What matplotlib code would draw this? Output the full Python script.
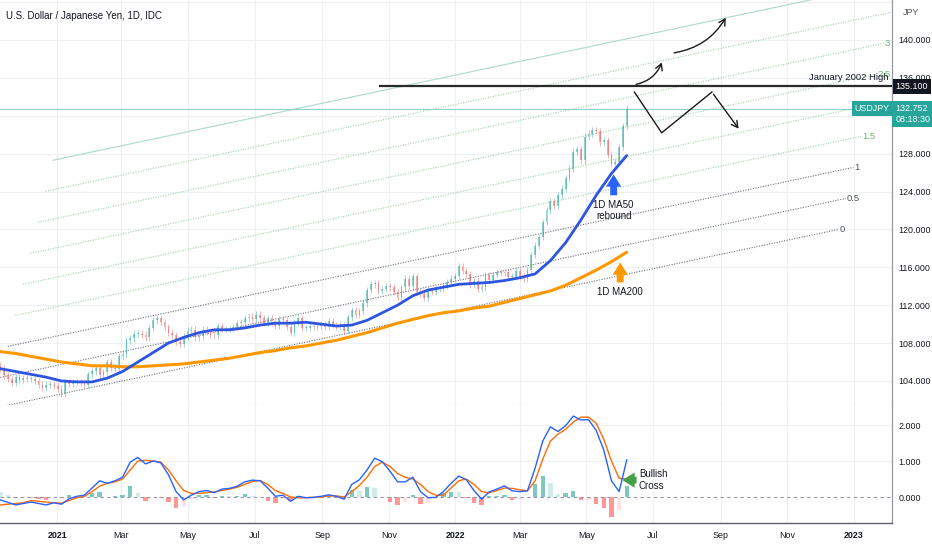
#!/usr/bin/env python

"""
USD/JPY daily chart with MA50 / MA200, a Fibonacci channel and MACD pane.
"""

import matplotlib
matplotlib.use("Agg")
import matplotlib.pyplot as plt
import matplotlib.transforms as mtransforms
import pandas as pd

plt.rcParams['font.family'] = ['Liberation Sans', 'DejaVu Sans']

# price closes, two per week, ending 2022-06-07
closes = [
    105.3, 104.6, 104.2, 103.8, 104.4, 104.1, 104.3, 104.2, 104.2, 104.0,
    103.6, 103.3, 103.6, 103.6, 103.5, 103.2, 102.7, 103.9, 103.7, 103.9,
    103.9, 103.8, 103.6, 104.7, 105.0, 105.4, 104.6, 104.9, 106.0, 105.4,
    105.3, 106.6, 106.8, 108.3, 108.5, 109.0, 109.0, 108.9, 108.6, 109.6,
    110.4, 110.6, 110.2, 109.7, 109.1, 108.8, 108.1, 107.9, 108.7, 109.3,
    109.4, 108.6, 108.7, 109.4, 109.2, 108.9, 108.8, 109.8, 109.5, 109.5,
    109.5, 109.7, 110.1, 110.2, 110.6, 110.8, 110.5, 111.0, 110.6, 110.1,
    110.6, 110.1, 109.8, 110.5, 110.4, 109.7, 109.1, 110.2, 110.6, 109.6,
    109.6, 109.8, 109.7, 109.8, 110.0, 109.7, 110.3, 109.9, 109.7, 109.9,
    109.3, 110.7, 111.5, 111.0, 111.4, 112.2, 113.6, 114.2, 114.3, 113.5,
    113.7, 114.0, 113.9, 113.4, 112.9, 113.9, 114.8, 114.0, 115.1, 113.4,
    113.2, 112.8, 113.5, 113.4, 113.7, 113.7, 114.1, 114.4, 114.8, 115.1,
    116.1, 115.6, 115.3, 114.2, 114.6, 113.7, 113.9, 115.2, 114.7, 115.2,
    115.5, 115.4, 115.5, 115.0, 115.0, 115.6, 115.0, 114.8, 115.7, 117.3,
    118.3, 119.2, 120.8, 122.0, 123.0, 122.5, 123.6, 124.3, 125.4, 126.4,
    128.2, 128.5, 127.3, 129.8, 130.1, 130.5, 130.4, 129.2, 129.4, 127.9,
    126.9, 127.1, 128.7, 130.9, 132.752,
]

# moving averages, every two weeks
ma50 = [
    105.3, 105.0, 104.7, 104.4, 104.0, 103.9, 103.9, 104.3, 105.0, 106.0,
    107.0, 108.0, 108.6, 109.1, 109.4, 109.4, 109.6, 109.9, 110.1, 110.1,
    110.2, 110.0, 109.8, 109.9, 110.4, 111.2, 112.0, 113.0, 113.6, 113.9,
    114.2, 114.3, 114.4, 114.6, 114.9, 115.3, 116.7, 118.6, 121.0, 123.6,
    125.9, 127.8,
]
ma200 = [
    107.1, 106.9, 106.6, 106.3, 106.0, 105.8, 105.6, 105.6, 105.5, 105.5,
    105.6, 105.7, 105.8, 106.0, 106.2, 106.4, 106.7, 107.0, 107.2, 107.5,
    107.7, 108.0, 108.3, 108.7, 109.1, 109.6, 110.1, 110.5, 110.9, 111.2,
    111.4, 111.7, 111.9, 112.3, 112.7, 113.1, 113.5, 114.1, 114.9, 115.7,
    116.6, 117.6,
]

# MACD pane, weekly
macd = [
    -0.08, -0.15, -0.22, -0.18, -0.14, -0.18, -0.22, -0.16, -0.20, -0.05,
    0.02, 0.05, 0.25, 0.45, 0.38, 0.45, 0.55, 0.97, 1.10, 0.92,
    1.00, 0.95, 0.62, 0.15, -0.08, 0.05, 0.15, 0.18, 0.12, 0.22,
    0.24, 0.30, 0.42, 0.47, 0.45, 0.25, 0.02, 0.05, -0.12, 0.02,
    -0.02, -0.01, 0.02, 0.06, 0.02, -0.06, 0.35, 0.48, 0.75, 1.08,
    0.98, 0.72, 0.42, 0.42, 0.55, 0.15, -0.02, -0.01, 0.15, 0.38,
    0.58, 0.48, 0.18, -0.06, 0.14, 0.22, 0.31, 0.17, 0.15, 0.17,
    0.80, 1.55, 1.95, 1.82, 1.98, 2.25, 2.14, 2.15, 1.85, 1.30,
    0.45, 0.15, 1.03,
]
signal = [
    -0.22, -0.20, -0.18, -0.16, -0.10, -0.12, -0.14, -0.16, -0.17, -0.10,
    -0.02, 0.02, 0.15, 0.30, 0.38, 0.42, 0.50, 0.75, 1.00, 1.02,
    1.00, 0.97, 0.75, 0.45, 0.18, 0.10, 0.10, 0.12, 0.14, 0.18,
    0.22, 0.27, 0.35, 0.43, 0.46, 0.35, 0.18, 0.10, 0.00, -0.02,
    -0.02, -0.01, 0.00, 0.03, 0.03, 0.00, 0.15, 0.32, 0.55, 0.85,
    0.97, 0.85, 0.65, 0.55, 0.50, 0.35, 0.15, 0.05, 0.05, 0.25,
    0.45, 0.50, 0.35, 0.15, 0.12, 0.18, 0.25, 0.24, 0.20, 0.17,
    0.45, 1.05, 1.55, 1.75, 1.88, 2.08, 2.22, 2.22, 2.05, 1.60,
    1.00, 0.52, 0.50,
]
hist = [
    0.14, 0.05, -0.04, -0.02, -0.04, -0.06, -0.08, 0.00, -0.03, 0.05,
    0.04, 0.03, 0.10, 0.15, 0.00, 0.03, 0.05, 0.30, 0.10, -0.10,
    0.00, -0.02, -0.13, -0.30, -0.26, -0.05, 0.05, 0.06, -0.02, 0.04,
    0.02, 0.03, 0.07, 0.04, -0.01, -0.10, -0.16, -0.05, -0.12, 0.04,
    0.00, 0.00, 0.02, 0.03, -0.01, -0.06, 0.20, 0.16, 0.28, 0.25,
    0.01, -0.13, -0.23, -0.13, 0.05, -0.20, -0.17, -0.06, 0.10, 0.13,
    0.13, -0.02, -0.17, -0.21, 0.02, 0.04, 0.06, -0.07, -0.05, 0.00,
    0.35, 0.58, 0.40, 0.07, 0.10, 0.17, -0.08, -0.07, -0.20, -0.30,
    -0.55, -0.37, 0.30,
]

last_day = "2022-06-07"
candle_dates = pd.date_range(end=last_day, periods=len(closes), freq="84h")
ma_dates = pd.date_range(end=last_day, periods=len(ma50), freq="14D")
macd_dates = pd.date_range(end=last_day, periods=len(macd), freq="7D")

# fibonacci channel: base line and shift per level
chan_start = (pd.Timestamp("2020-11-03"), 101.1)
chan_end = (pd.Timestamp("2022-12-18"), 120.0)
chan_shift_days, chan_shift_price = 13.8, 6.55
chan_levels = [0, 0.5, 1, 1.5, 2, 2.5, 3, 3.5, 4]
chan_labels = ["0", "0.5", "1", "1.5", "2", "2.5", "3", "", ""]

jan2002_high = 135.1
last_price = 132.752

price_ticks = list(range(104, 145, 4))
hidden_ticks = [132, 144]   # covered by the price tag / top edge
month_ticks = pd.date_range("2021-01-01", "2023-01-01", freq="2MS")

TEXT = "#131722"
GRID = "#eef0f4"
UP, DOWN = "#26a69a", "#ef5350"
FS = 6.4

fig = plt.figure(figsize=(9.32, 5.5), dpi=100)
ax = fig.add_axes([0, 0.2636, 0.957, 0.7364])
axm = fig.add_axes([0, 0.0491, 0.957, 0.2145], sharex=ax)

xmin, xmax = pd.Timestamp("2020-11-09 16:00"), pd.Timestamp("2023-02-05")
ax.set_xlim(xmin, xmax)
ax.set_ylim(101.46, 144.22)
axm.set_ylim(-0.722, 2.556)

# grids
for t in month_ticks:
    ax.axvline(t, color=GRID, lw=0.9, zorder=0)
    axm.axvline(t, color=GRID, lw=0.9, zorder=0)
for p in price_ticks:
    ax.axhline(p, color=GRID, lw=0.9, zorder=0)
for v in [1, 2]:
    axm.axhline(v, color=GRID, lw=0.9, zorder=0)

# channel
for lvl, lab in zip(chan_levels, chan_labels):
    d0 = chan_start[0] + pd.Timedelta(days=lvl * chan_shift_days)
    d1 = chan_end[0] + pd.Timedelta(days=lvl * chan_shift_days)
    p0 = chan_start[1] + lvl * chan_shift_price
    p1 = chan_end[1] + lvl * chan_shift_price
    if lvl <= 1:
        col, ls, lw, lcol = "#6f7380", (0, (1, 1.3)), 0.8, "#50535e"
    elif lvl < 4:
        col, ls, lw, lcol = "#a5cfa9", (0, (1, 1.3)), 0.8, "#6fb477"
    else:
        col, ls, lw, lcol = "#b5dccf", "-", 0.9, "#6fb477"
    ax.plot([d0, d1], [p0, p1], color=col, ls=ls, lw=lw, zorder=1)
    if lab:
        ax.text(d1 + pd.Timedelta(days=1), p1, lab, color=lcol, fontsize=FS + 0.4,
                ha="left", va="center", zorder=2)

# current price line
ax.axhline(last_price, color="#8fd0c8", lw=0.8, zorder=1)

# candles
opens = [closes[0] + 0.3] + closes[:-1]
cols = [UP if c >= o else DOWN for o, c in zip(opens, closes)]
bodies = [max(abs(c - o), 0.08) * (1 if c >= o else -1) for o, c in zip(opens, closes)]
highs = [max(o, c) + 0.35 for o, c in zip(opens, closes)]
lows = [min(o, c) - 0.35 for o, c in zip(opens, closes)]
ax.vlines(candle_dates, lows, highs, colors=cols, lw=0.6, alpha=0.5, zorder=2)
ax.bar(candle_dates, bodies, bottom=opens, width=1.6, color=cols, alpha=0.5,
       lw=0, zorder=2)

# moving averages
ax.plot(ma_dates, ma200, color="#ff9800", lw=2.2, zorder=3, solid_capstyle="round")
ax.plot(ma_dates, ma50, color="#2e55e0", lw=2.0, zorder=3, solid_capstyle="round")

# January 2002 high
ax.plot([pd.Timestamp("2021-10-24"), xmax], [jan2002_high, jan2002_high],
        color="#2a2a2a", lw=1.6, zorder=4)
ax.text(pd.Timestamp("2023-02-02"), jan2002_high + 0.45, "January 2002 High",
        color=TEXT, fontsize=FS + 0.4, ha="right", va="bottom", zorder=5)

# projection arrows
arrow_kw = dict(arrowstyle="->,head_length=0.45,head_width=0.25", color="#1a1a1a", lw=1.0)
ax.annotate("", xy=(pd.Timestamp("2022-07-10"), 137.9),
            xytext=(pd.Timestamp("2022-06-13"), 135.25),
            arrowprops=dict(connectionstyle="arc3,rad=0.3", **arrow_kw), zorder=5)
ax.annotate("", xy=(pd.Timestamp("2022-09-07"), 142.6),
            xytext=(pd.Timestamp("2022-07-18"), 138.6),
            arrowprops=dict(connectionstyle="arc3,rad=0.25", **arrow_kw), zorder=5)
zig_x = [pd.Timestamp("2022-06-14"), pd.Timestamp("2022-07-09"), pd.Timestamp("2022-08-24")]
zig_y = [134.5, 130.2, 134.5]
ax.plot(zig_x, zig_y, color="#1a1a1a", lw=1.0, zorder=5)
ax.annotate("", xy=(pd.Timestamp("2022-09-19"), 130.4),
            xytext=(zig_x[-1], zig_y[-1]), arrowprops=arrow_kw, zorder=5)

# MA callouts
fat = "simple,head_width=1.0,head_length=0.8,tail_width=0.45"
ax.annotate("", xy=(pd.Timestamp("2022-05-26"), 125.8),
            xytext=(pd.Timestamp("2022-05-26"), 123.6),
            arrowprops=dict(arrowstyle=fat, color="#2962ff", lw=0, mutation_scale=11,
                            shrinkA=0, shrinkB=0),
            zorder=6)
ax.text(pd.Timestamp("2022-05-26"), 123.1, "1D MA50\nrebound", color=TEXT,
        fontsize=FS + 0.6, ha="center", va="top", linespacing=1.15, zorder=6)
ax.annotate("", xy=(pd.Timestamp("2022-06-01"), 116.5),
            xytext=(pd.Timestamp("2022-06-01"), 114.4),
            arrowprops=dict(arrowstyle=fat, color="#ff9800", lw=0, mutation_scale=11,
                            shrinkA=0, shrinkB=0),
            zorder=6)
ax.text(pd.Timestamp("2022-06-01"), 113.4, "1D MA200", color=TEXT,
        fontsize=FS + 0.6, ha="center", va="center", zorder=6)

# MACD pane
prev = [hist[0]] + hist[:-1]
hcols = []
for v, pv in zip(hist, prev):
    if v >= 0:
        hcols.append("#26a69a" if v > pv else "#b2dfdb")
    else:
        hcols.append("#ff5252" if v < pv else "#ffcdd2")
axm.bar(macd_dates, hist, width=4.0, color=hcols, alpha=0.6, lw=0, zorder=1)
axm.axhline(0, color="#9598a1", lw=0.8, ls=(0, (3, 3)), zorder=1)
axm.plot(macd_dates, signal, color="#ff6d00", lw=1.0, zorder=2)
axm.plot(macd_dates, macd, color="#2962ff", lw=1.0, zorder=3)
axm.annotate("", xy=(pd.Timestamp("2022-06-03"), 0.47),
             xytext=(pd.Timestamp("2022-06-16"), 0.47),
             arrowprops=dict(arrowstyle=fat, color="#43a047", lw=0, mutation_scale=11,
                             shrinkA=0, shrinkB=0),
             zorder=4)
axm.text(pd.Timestamp("2022-06-18"), 0.47, "Bullish\nCross", color=TEXT,
         fontsize=FS + 0.6, ha="left", va="center", linespacing=1.15, zorder=4)

# axes styling
for a in (ax, axm):
    a.yaxis.tick_right()
    a.tick_params(axis="y", length=0, pad=4.5, labelsize=FS, labelcolor=TEXT)
    for s in ("top", "left"):
        a.spines[s].set_visible(False)
    a.spines["right"].set_color("#9598a1")
    a.spines["right"].set_linewidth(0.9)

ax.spines["bottom"].set_color("#e0e3eb")
ax.spines["bottom"].set_linewidth(0.9)
axm.spines["bottom"].set_color("#5d606b")
axm.spines["bottom"].set_linewidth(1.0)

ax.set_yticks(price_ticks)
ax.set_yticklabels(["" if p in hidden_ticks else "%.3f" % p for p in price_ticks])
axm.set_yticks([0, 1, 2])
axm.set_yticklabels(["0.000", "1.000", "2.000"])

ax.tick_params(axis="x", length=0, labelbottom=False)
axm.set_xticks(month_ticks)
axm.set_xticklabels([t.strftime("%Y") if t.month == 1 else t.strftime("%b")
                     for t in month_ticks])
axm.tick_params(axis="x", length=0, pad=6, labelsize=FS, labelcolor=TEXT)
for t, lab in zip(month_ticks, axm.get_xticklabels()):
    if t.month == 1:
        lab.set_fontweight("bold")

# right axis tags
tr = mtransforms.blended_transform_factory(ax.transAxes, ax.transData)
ax.text(1.004, jan2002_high, "135.100", transform=tr, color="white", fontsize=FS,
        ha="left", va="center", clip_on=False, zorder=10,
        bbox=dict(boxstyle="square,pad=0.3", fc="#131722", ec="none"))
ax.text(1.004, last_price - 0.6, "132.752\n08:18:30", transform=tr, color="white",
        fontsize=FS, ha="left", va="center", linespacing=1.3, clip_on=False, zorder=10,
        bbox=dict(boxstyle="square,pad=0.35", fc="#26a69a", ec="none"))
ax.text(0.997, last_price, "USDJPY", transform=tr, color="white", fontsize=FS,
        ha="right", va="center", clip_on=False, zorder=10,
        bbox=dict(boxstyle="square,pad=0.3", fc="#26a69a", ec="none"))

fig.text(0.969, 0.977, "JPY", color="#50535e", fontsize=FS, ha="left", va="center")
fig.text(0.0065, 0.971, "U.S. Dollar / Japanese Yen, 1D, IDC", color=TEXT,
         fontsize=7, ha="left", va="center")

fig.savefig("out.png", dpi=100)
